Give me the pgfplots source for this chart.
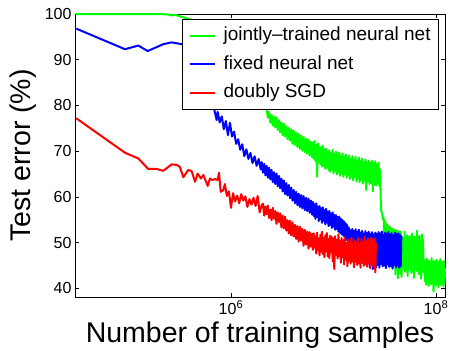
\documentclass[border=0pt]{standalone}
\usepackage{fontspec}
\setmainfont{Liberation Sans}
\usepackage{pgfplots}
\pgfplotsset{compat=1.18}
\usepackage{pgfplotstable}
\definecolor{mgreen}{rgb}{0,1,0}
\definecolor{mblue}{rgb}{0,0,1}
\definecolor{mred}{rgb}{1,0,0}

% L = log10(number of training samples), v = test error (%)
\pgfplotstableread[row sep=\\]{
L v\\
4.490 100\\ 5.300 100\\ 5.380 99.9\\ 5.420 99.7\\ 5.460 99.8\\ 5.500 99.5\\ 5.560 99.1\\ 5.620 98.7\\ 5.800 96\\ 6.000 91\\ 6.200 85\\ 6.330 80\\
6.348 79.2\\ 6.360 77.3\\ 6.372 78.6\\ 6.384 76.2\\ 6.396 78.0\\ 6.408 75.6\\ 6.420 77.5\\ 6.432 75.2\\ 6.444 77.4\\ 6.456 74.6\\
6.468 76.8\\ 6.480 74.1\\ 6.492 76.3\\ 6.504 73.5\\ 6.516 76.0\\ 6.528 73.2\\ 6.540 75.4\\ 6.552 72.6\\ 6.564 75.1\\ 6.576 72.3\\
6.588 74.8\\ 6.600 71.6\\ 6.612 74.5\\ 6.624 71.4\\ 6.636 74.0\\ 6.648 70.9\\ 6.660 73.8\\ 6.672 70.5\\ 6.684 73.4\\ 6.696 70.1\\
6.708 73.2\\ 6.720 69.8\\ 6.732 72.7\\ 6.744 69.4\\ 6.756 72.5\\ 6.768 69.0\\ 6.780 72.1\\ 6.792 68.6\\
6.800 71.9\\ 6.808 68.3\\ 6.816 72.2\\ 6.824 67.9\\ 6.832 71.4\\ 6.840 64.4\\ 6.848 71.7\\ 6.856 67.5\\ 6.864 71.0\\ 6.872 67.2\\
6.880 70.8\\ 6.888 66.6\\ 6.896 71.2\\ 6.904 66.9\\ 6.912 70.4\\ 6.920 66.1\\ 6.928 70.6\\ 6.936 66.4\\ 6.944 69.9\\ 6.952 65.8\\
6.960 70.2\\ 6.968 65.5\\ 6.976 69.6\\ 6.984 66.0\\ 6.992 70.3\\ 7.000 65.2\\ 7.008 69.4\\ 7.016 65.7\\ 7.024 69.9\\ 7.032 64.9\\
7.040 69.2\\ 7.048 65.4\\ 7.056 69.7\\ 7.064 64.6\\ 7.072 68.9\\ 7.080 65.1\\ 7.088 69.5\\ 7.096 64.4\\ 7.104 68.7\\ 7.112 64.9\\
7.120 69.3\\ 7.128 64.2\\ 7.136 68.5\\ 7.144 64.7\\ 7.152 69.1\\ 7.160 63.9\\ 7.168 68.4\\ 7.176 64.5\\ 7.184 68.9\\ 7.192 63.6\\
7.200 68.2\\ 7.208 64.3\\ 7.216 68.8\\ 7.224 63.4\\ 7.232 68.0\\ 7.240 64.0\\ 7.248 68.6\\ 7.256 63.2\\ 7.264 67.8\\ 7.272 63.8\\
7.280 68.4\\ 7.288 62.9\\ 7.296 67.6\\ 7.304 63.5\\ 7.312 68.2\\ 7.320 61.5\\ 7.328 67.5\\ 7.336 63.3\\ 7.344 68.0\\ 7.352 62.8\\
7.360 67.4\\ 7.368 63.0\\ 7.376 67.9\\ 7.384 61.2\\ 7.392 67.2\\ 7.400 62.7\\ 7.408 67.8\\ 7.416 62.5\\ 7.424 67.1\\ 7.432 63.0\\
7.440 67.5\\ 7.448 62.4\\ 7.455 66.0\\ 7.460 60.0\\ 7.466 57.0\\ 7.475 56.3\\ 7.485 55.0\\
7.490 55.5\\ 7.496 50.0\\ 7.502 54.8\\ 7.508 49.0\\ 7.514 54.2\\ 7.520 48.5\\ 7.526 53.9\\ 7.532 48.0\\ 7.538 53.6\\ 7.544 47.5\\
7.550 53.4\\ 7.556 47.0\\ 7.562 53.2\\ 7.568 46.0\\ 7.574 53.0\\ 7.580 44.5\\ 7.586 52.9\\ 7.592 45.5\\ 7.598 52.8\\ 7.604 43.0\\
7.610 52.7\\ 7.616 44.8\\ 7.622 52.6\\ 7.628 42.2\\ 7.634 52.4\\ 7.640 44.0\\ 7.646 52.5\\ 7.652 43.2\\ 7.658 52.3\\ 7.664 42.5\\
7.670 51.2\\ 7.676 44.3\\ 7.682 50.8\\ 7.688 45.1\\ 7.694 52.4\\ 7.700 43.6\\ 7.706 50.5\\ 7.712 44.8\\ 7.718 51.6\\ 7.724 42.7\\
7.730 50.9\\ 7.736 45.3\\ 7.742 51.4\\ 7.748 44.1\\ 7.754 50.2\\ 7.760 43.4\\ 7.766 52.0\\ 7.772 44.9\\ 7.778 50.6\\ 7.784 42.3\\
7.790 51.3\\ 7.796 44.5\\ 7.802 50.4\\ 7.808 43.8\\ 7.814 52.6\\ 7.820 45.0\\ 7.826 50.9\\ 7.832 43.1\\ 7.838 51.5\\ 7.844 44.4\\
7.850 50.3\\ 7.856 42.1\\ 7.862 51.8\\ 7.868 44.7\\ 7.874 50.7\\ 7.880 43.5\\
7.886 46.2\\ 7.892 41.5\\ 7.898 45.8\\ 7.904 40.8\\ 7.910 46.5\\ 7.916 41.9\\ 7.922 45.4\\ 7.928 40.5\\ 7.934 46.1\\ 7.940 41.3\\
7.946 45.7\\ 7.952 40.9\\ 7.958 46.6\\ 7.964 41.7\\ 7.970 45.2\\ 7.976 39.3\\ 7.982 46.0\\ 7.988 41.1\\ 7.994 45.5\\ 8.000 40.6\\
8.006 46.3\\ 8.012 41.6\\ 8.018 45.1\\ 8.024 40.2\\ 8.030 45.9\\ 8.036 41.4\\ 8.042 46.4\\ 8.048 40.7\\ 8.054 45.3\\ 8.060 41.2\\
8.066 45.8\\ 8.072 40.4\\ 8.078 46.0\\ 8.084 41.0\\ 8.088 44.5\\
}\greendata

\pgfplotstableread[row sep=\\]{
L v\\
4.490 96.8\\ 4.966 92.3\\ 5.096 93.1\\ 5.187 91.9\\ 5.340 93.4\\ 5.420 93.8\\ 5.520 93.4\\ 5.600 92.8\\ 5.700 89.0\\ 5.780 84.0\\ 5.820 80.5\\
5.840 78.8\\ 5.860 76.8\\ 5.870 78.6\\ 5.890 76.3\\ 5.910 77.6\\ 5.930 74.8\\ 5.950 76.6\\ 5.970 73.5\\ 5.990 76.2\\ 6.010 73.2\\
6.030 74.3\\ 6.050 71.6\\ 6.070 72.6\\ 6.090 70.3\\ 6.110 71.5\\ 6.130 68.9\\ 6.150 70.4\\ 6.170 68.3\\ 6.190 69.6\\ 6.210 67.4\\
6.230 68.9\\ 6.250 66.8\\ 6.270 68.3\\ 6.290 66.0\\
6.300 67.6\\ 6.312 65.3\\ 6.324 67.2\\ 6.336 64.7\\ 6.348 66.8\\ 6.360 64.2\\ 6.372 66.4\\ 6.384 63.8\\ 6.396 65.9\\ 6.408 63.2\\
6.420 65.4\\ 6.432 62.8\\ 6.444 65.1\\ 6.456 62.3\\ 6.468 64.6\\ 6.480 61.9\\ 6.492 64.0\\ 6.504 61.2\\ 6.516 63.6\\ 6.528 60.6\\
6.540 63.0\\ 6.552 60.3\\ 6.564 62.6\\ 6.576 59.7\\ 6.588 62.0\\ 6.600 59.2\\ 6.612 61.5\\ 6.624 58.6\\ 6.636 61.1\\ 6.648 58.2\\
6.660 60.7\\ 6.672 57.8\\ 6.684 60.4\\ 6.696 57.5\\ 6.708 60.2\\ 6.720 57.1\\ 6.732 59.8\\ 6.744 56.9\\ 6.756 59.6\\ 6.768 56.5\\
6.780 59.2\\ 6.792 56.1\\
6.800 58.9\\ 6.808 55.8\\ 6.816 58.4\\ 6.824 55.2\\ 6.832 58.6\\ 6.840 55.6\\ 6.848 57.9\\ 6.856 54.7\\ 6.864 58.0\\ 6.872 55.1\\
6.880 57.5\\ 6.888 54.3\\ 6.896 57.7\\ 6.904 54.8\\ 6.912 57.1\\ 6.920 54.0\\ 6.928 57.4\\ 6.936 54.4\\ 6.944 56.8\\ 6.952 53.6\\
6.960 56.9\\ 6.968 53.9\\ 6.976 56.4\\ 6.984 53.2\\ 6.992 56.6\\ 7.000 53.5\\ 7.008 56.1\\ 7.016 52.8\\ 7.024 56.0\\ 7.032 53.0\\
7.040 55.6\\ 7.048 52.4\\ 7.056 55.7\\ 7.064 52.1\\ 7.072 55.2\\ 7.080 51.8\\ 7.088 54.9\\ 7.096 51.5\\ 7.104 54.6\\ 7.112 51.0\\
7.120 54.2\\ 7.128 50.6\\ 7.136 53.8\\ 7.144 50.2\\
7.152 53.2\\ 7.160 48.5\\ 7.168 52.7\\ 7.176 47.6\\ 7.184 53.0\\ 7.192 46.8\\ 7.200 52.5\\ 7.208 47.9\\ 7.216 52.9\\ 7.224 46.3\\
7.232 52.4\\ 7.240 47.2\\ 7.248 52.8\\ 7.256 45.9\\ 7.264 52.2\\ 7.272 46.7\\ 7.280 52.6\\ 7.288 45.5\\ 7.296 52.0\\ 7.304 46.4\\
7.312 52.5\\ 7.320 45.2\\ 7.328 52.1\\ 7.336 46.0\\ 7.344 52.4\\ 7.352 44.6\\ 7.360 51.9\\ 7.368 45.8\\ 7.376 52.3\\ 7.384 44.2\\
7.392 51.8\\ 7.400 45.4\\ 7.408 52.2\\ 7.416 44.6\\ 7.424 51.9\\ 7.432 45.1\\ 7.440 52.3\\ 7.448 44.5\\ 7.456 52.0\\ 7.464 45.3\\
7.472 52.4\\ 7.480 44.8\\ 7.488 51.7\\ 7.496 45.0\\ 7.504 52.2\\ 7.512 44.4\\ 7.520 51.9\\ 7.528 45.2\\ 7.536 52.3\\ 7.544 44.7\\
7.552 51.8\\ 7.560 44.9\\ 7.568 52.1\\ 7.576 44.3\\ 7.584 51.6\\ 7.592 45.1\\ 7.600 52.2\\ 7.608 44.6\\ 7.616 51.9\\ 7.624 45.0\\
7.632 52.0\\ 7.640 44.5\\ 7.648 51.7\\ 7.656 44.8\\ 7.662 51.5\\
}\bluedata

\pgfplotstableread[row sep=\\]{
L v\\
4.490 77.2\\ 4.966 69.65\\ 5.096 68.4\\ 5.193 66.1\\ 5.275 66.1\\ 5.340 65.7\\ 5.420 67.1\\ 5.470 67.0\\ 5.500 66.6\\ 5.535 64.3\\
5.584 65.9\\ 5.617 65.6\\ 5.649 63.3\\ 5.675 65.1\\ 5.707 64.0\\ 5.730 64.8\\ 5.773 62.4\\ 5.795 64.0\\ 5.818 63.7\\ 5.844 63.9\\
5.870 63.7\\ 5.883 65.3\\ 5.900 61.1\\ 5.925 61.5\\
5.940 62.8\\ 5.960 60.2\\ 5.980 61.2\\ 6.000 57.6\\ 6.020 60.8\\ 6.040 59.0\\ 6.060 60.3\\ 6.080 58.6\\ 6.100 60.6\\ 6.120 59.2\\
6.140 60.1\\ 6.160 57.8\\ 6.180 59.5\\ 6.200 58.3\\ 6.220 59.8\\ 6.240 58.0\\ 6.260 60.2\\ 6.280 56.6\\ 6.300 58.2\\
6.312 58.5\\ 6.324 55.9\\ 6.336 57.9\\ 6.348 56.2\\ 6.360 58.1\\ 6.372 55.4\\ 6.384 57.2\\ 6.396 54.9\\ 6.408 57.6\\ 6.420 55.2\\
6.432 56.9\\ 6.444 54.1\\ 6.456 56.6\\ 6.468 54.5\\ 6.480 56.4\\ 6.492 53.3\\ 6.504 55.9\\ 6.516 53.1\\ 6.528 55.7\\ 6.540 52.6\\
6.552 54.9\\ 6.564 52.0\\ 6.576 54.8\\ 6.588 51.6\\ 6.600 54.4\\ 6.612 51.3\\ 6.624 53.9\\ 6.636 50.8\\ 6.648 53.6\\ 6.660 50.2\\
6.672 53.5\\ 6.684 50.4\\ 6.696 53.0\\ 6.708 49.3\\ 6.720 52.8\\ 6.732 49.6\\ 6.744 52.4\\ 6.756 48.7\\ 6.768 52.3\\ 6.780 49.1\\
6.792 51.9\\
6.800 48.4\\ 6.808 52.0\\ 6.816 48.9\\ 6.824 51.3\\ 6.832 47.6\\ 6.840 52.2\\ 6.848 48.3\\ 6.856 50.9\\ 6.864 47.2\\ 6.872 51.7\\
6.880 48.0\\ 6.888 52.4\\ 6.896 47.5\\ 6.904 51.0\\ 6.912 46.8\\ 6.920 51.6\\ 6.928 48.1\\ 6.936 52.1\\ 6.944 47.0\\ 6.952 50.8\\
6.960 46.6\\ 6.968 51.5\\ 6.976 47.9\\ 6.984 51.2\\ 6.992 45.9\\ 7.000 50.9\\ 7.008 44.2\\ 7.016 51.4\\ 7.024 47.3\\ 7.032 50.6\\
7.040 46.5\\ 7.048 51.8\\ 7.056 47.0\\ 7.064 50.4\\ 7.072 45.6\\ 7.080 51.0\\ 7.088 46.8\\ 7.096 50.5\\ 7.104 45.2\\ 7.112 51.2\\
7.120 46.4\\ 7.128 49.9\\ 7.136 44.8\\ 7.144 50.7\\ 7.152 46.0\\ 7.160 50.2\\ 7.168 45.4\\ 7.176 51.1\\ 7.184 45.9\\ 7.192 49.8\\
7.200 44.6\\ 7.208 50.5\\ 7.216 45.8\\ 7.224 50.0\\ 7.232 45.1\\ 7.240 51.0\\ 7.248 45.5\\ 7.256 49.6\\ 7.264 44.5\\ 7.272 50.8\\
7.280 45.7\\ 7.288 50.1\\ 7.296 44.9\\ 7.304 51.2\\ 7.312 45.3\\ 7.320 50.3\\ 7.328 44.7\\ 7.336 50.9\\ 7.344 45.6\\ 7.352 50.2\\
7.360 44.4\\ 7.368 51.0\\ 7.376 45.2\\ 7.384 50.6\\ 7.392 44.8\\ 7.400 50.9\\ 7.408 43.5\\ 7.415 50.0\\
}\reddata

\begin{document}
\begin{tikzpicture}
\begin{axis}[
  at={(0pt,0pt)}, anchor=south west,
  width=370pt, height=283pt, scale only axis,
  xmode=log, xmin=30060, xmax=1.2246e8,
  ymin=38.1, ymax=100,
  xtick={1e6,1e8},
  xticklabels={10\textsuperscript{6},10\textsuperscript{8}},
  minor xtick={},
  ytick={40,50,60,70,80,90,100},
  /pgf/number format/assume math mode=true,
  tick label style={font=\fontsize{16}{19}\selectfont},
  xlabel={Number of training samples},
  ylabel={Test error (\%)},
  every axis x label/.style={at={(axis description cs:0.5,0)}, yshift=-46pt, anchor=base, font=\fontsize{28.5}{34}\selectfont},
  every axis y label/.style={at={(axis description cs:0,0.5)}, xshift=-45pt, rotate=90, anchor=base, font=\fontsize{28.5}{34}\selectfont},
  axis line style={line width=0.8pt},
  tick style={black, line width=0.6pt},
  major tick length=4pt,
  tick align=inside,
  clip=false,
  legend cell align=left,
  legend image code/.code={\draw[#1, line width=2pt] (0pt,0pt) -- (25pt,0pt);},
  legend style={at={(rel axis cs:1,1)}, anchor=north east, xshift=-6pt, yshift=-5pt,
    font=\fontsize{19}{22}\selectfont, draw=black, line width=0.8pt, fill=white,
    inner xsep=6pt, inner ysep=5.5pt, row sep=6.5pt,
    nodes={inner sep=2pt, text height=14pt, text depth=4pt},
    /tikz/every odd column/.append style={column sep=6pt}},
]
\addplot[mgreen, line width=2pt, line join=round] table[x expr={10^\thisrow{L}}, y=v] {\greendata};
\addlegendentry{jointly--trained neural net}
\addplot[mblue, line width=2pt, line join=round] table[x expr={10^\thisrow{L}}, y=v] {\bluedata};
\addlegendentry{fixed neural net}
\addplot[mred, line width=2pt, line join=round] table[x expr={10^\thisrow{L}}, y=v] {\reddata};
\addlegendentry{doubly SGD}
\end{axis}
\pgfresetboundingbox
\path[use as bounding box] (-75pt,-54pt) rectangle (376pt,297pt);
\end{tikzpicture}
\end{document}
